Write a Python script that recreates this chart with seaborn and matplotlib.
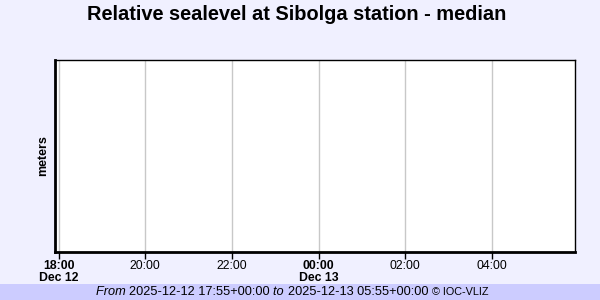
import matplotlib
matplotlib.use("Agg")
import matplotlib.pyplot as plt
import matplotlib.dates as mdates
import seaborn as sns
import pandas as pd
import numpy as np

title = "Relative sealevel at Sibolga station - median"
ylabel = "meters"
start = "2025-12-12 17:55"
end = "2025-12-13 05:55"
tick_times = ["2025-12-12 18:00", "2025-12-12 20:00", "2025-12-12 22:00",
              "2025-12-13 00:00", "2025-12-13 02:00", "2025-12-13 04:00"]
tick_labels = ["18:00\nDec 12", "20:00", "22:00", "00:00\nDec 13", "02:00", "04:00"]
bold_ticks = [True, False, False, True, False, False]
times = []   # no data available
values = []

sns.set_theme(style="white")
plt.rcParams['font.family'] = ['Liberation Sans', 'DejaVu Sans']
plt.rcParams['text.color'] = 'black'
plt.rcParams['axes.labelcolor'] = 'black'
plt.rcParams['xtick.color'] = 'black'
plt.rcParams['ytick.color'] = 'black'

fig = plt.figure(figsize=(6, 3), dpi=100, facecolor="#F0F0FF")
ax = fig.add_axes([55/600, 1-252/300, 520/600, 192/300])
ax.set_facecolor("white")

df = pd.DataFrame({"time": pd.to_datetime(pd.Series(times, dtype="object")),
                   "value": pd.Series(values, dtype=float)})
try:
    sns.lineplot(data=df, x="time", y="value", ax=ax)
except Exception:
    ax.plot([], [])

ax.set_xlim(pd.Timestamp(start), pd.Timestamp(end))
ax.set_ylim(0, 1)
tt = [pd.Timestamp(t) for t in tick_times]
ax.set_xticks(tt)
ax.set_xticklabels(tick_labels)
for lab, b in zip(ax.get_xticklabels(), bold_ticks):
    lab.set_fontweight("bold" if b else "normal")
    lab.set_fontsize(8.8)
    lab.set_color("black")
    lab.set_verticalalignment("top")
    lab.set_linespacing(1.0)
ax.set_yticks([])
ax.grid(True, axis="x", color="#C8C8C8", linewidth=1)
ax.tick_params(axis="x", direction="out", length=5, width=1, color="black",
               pad=0.5, bottom=True)
for s in ["left", "bottom"]:
    ax.spines[s].set_linewidth(2)
    ax.spines[s].set_color("black")
for s in ["top", "right"]:
    ax.spines[s].set_linewidth(1)
    ax.spines[s].set_color("black")
ax.set_xlabel("")
ax.set_ylabel(ylabel, fontsize=9, fontweight="bold", labelpad=4, color="black")

fig.text(0.495, 1-15/300, title, ha="center", va="center", fontsize=14.4,
         fontweight="bold", color="black")

fig.patches.append(plt.Rectangle((0, 0), 1, 16/300, transform=fig.transFigure,
                                 facecolor="#CCCCFF", edgecolor="none", zorder=0))
parts = [("From ", "italic", 9.2), ("2025-12-12 17:55+00:00 ", "normal", 9.2),
         ("to ", "italic", 9.2), ("2025-12-13 05:55+00:00 ", "normal", 9.2),
         ("© IOC-VLIZ", "normal", 7.8)]
renderer = fig.canvas.get_renderer()
x = 96/600
for txt, style, size in parts:
    t = fig.text(x, 8/300, txt, ha="left", va="center", fontsize=size, style=style,
                 color="black")
    bb = t.get_window_extent(renderer=renderer)
    x += bb.width / 600

fig.savefig("out.png", dpi=100, facecolor=fig.get_facecolor())
